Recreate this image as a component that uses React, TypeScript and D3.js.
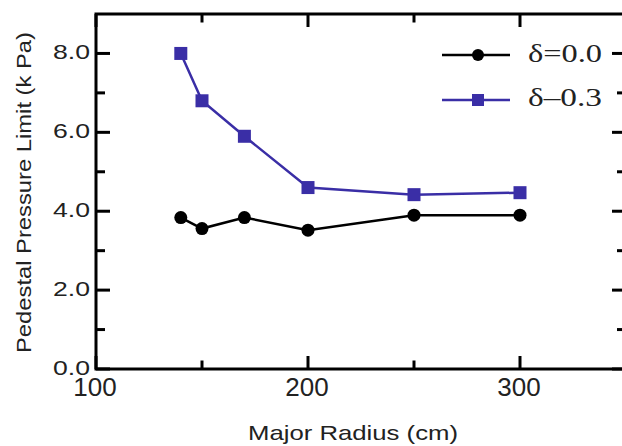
import React from "react";
import * as d3 from "d3";

const radius = [140, 150, 170, 200, 250, 300];
const delta00 = [3.84, 3.56, 3.84, 3.52, 3.9, 3.9];
const delta03 = [8.0, 6.8, 5.9, 4.6, 4.42, 4.47];
const xMajor = [100, 200, 300];
const xMinor = [150, 250];
const yMajor = [0, 2, 4, 6, 8];
const yMinor = [1, 3, 5, 7];
const yLabels = ["0.0", "2.0", "4.0", "6.0", "8.0"];
const seriesNames = ["δ=0.0", "δ–0.3"];

const W = 622, H = 446;
const L = 96, R = 626, T = 14, B = 369;
const BLUE = "#3a2ea6";

export default function App() {
  const x = d3.scaleLinear().domain([100, 350]).range([L, R]);
  const y = d3.scaleLinear().domain([0, 9]).range([B, T]);
  const line = d3
    .line<number>()
    .x((_, i) => x(radius[i]))
    .y((d) => y(d));
  const sans = "'Liberation Sans', Arial, sans-serif";
  const serif = "'Liberation Serif', 'Times New Roman', serif";
  const MJ = 13, MN = 8.5;
  return (
    <svg
      width={W}
      height={H}
      style={{ position: "absolute", left: 0, top: 0, background: "#fff" }}
    >
      <rect x={0} y={0} width={W} height={H} fill="#fff" />
      {/* ticks */}
      <g stroke="#000" strokeWidth={3}>
        {xMajor.map((v) => (
          <g key={"xm" + v}>
            <line x1={x(v)} x2={x(v)} y1={B} y2={B - MJ} />
            <line x1={x(v)} x2={x(v)} y1={T} y2={T + MJ} />
          </g>
        ))}
        {xMinor.map((v) => (
          <g key={"xn" + v}>
            <line x1={x(v)} x2={x(v)} y1={B} y2={B - MN} />
            <line x1={x(v)} x2={x(v)} y1={T} y2={T + MN} />
          </g>
        ))}
        {yMajor.map((v) => (
          <g key={"ym" + v}>
            <line x1={L} x2={L + 14} y1={y(v)} y2={y(v)} />
            <line x1={R} x2={R - 14} y1={y(v)} y2={y(v)} />
          </g>
        ))}
        {yMinor.map((v) => (
          <g key={"yn" + v}>
            <line x1={L} x2={L + 9} y1={y(v)} y2={y(v)} />
            <line x1={R} x2={R - 9} y1={y(v)} y2={y(v)} />
          </g>
        ))}
      </g>
      <rect
        x={L}
        y={T}
        width={R - L}
        height={B - T}
        fill="none"
        stroke="#000"
        strokeWidth={3}
      />
      {/* tick labels */}
      <g fontFamily={sans} fill="#222">
        {yMajor.map((v, i) => (
          <text
            key={"yl" + v}
            x={53}
            y={y(v) + 5.5}
            fontSize={21}
            textLength={37}
            lengthAdjust="spacingAndGlyphs"
          >
            {yLabels[i]}
          </text>
        ))}
        {xMajor.map((v) => (
          <text
            key={"xl" + v}
            x={x(v) - 1}
            y={396}
            fontSize={26}
            textAnchor="middle"
          >
            {v}
          </text>
        ))}
        <text
          x={248}
          y={440}
          fontSize={21}
          textLength={210}
          lengthAdjust="spacingAndGlyphs"
        >
          Major Radius (cm)
        </text>
        <text
          transform={`translate(31,353) rotate(-90)`}
          x={0}
          y={0}
          fontSize={20}
          textLength={321}
          lengthAdjust="spacingAndGlyphs"
        >
          Pedestal Pressure Limit (k Pa)
        </text>
      </g>
      {/* series */}
      <path
        d={line(delta00) || ""}
        fill="none"
        stroke="#000"
        strokeWidth={2.5}
      />
      {delta00.map((v, i) => (
        <circle key={"c" + i} cx={x(radius[i])} cy={y(v)} r={6.5} fill="#000" />
      ))}
      <path
        d={line(delta03) || ""}
        fill="none"
        stroke={BLUE}
        strokeWidth={2.5}
      />
      {delta03.map((v, i) => (
        <rect
          key={"s" + i}
          x={x(radius[i]) - 6.5}
          y={y(v) - 6.5}
          width={13}
          height={13}
          fill={BLUE}
        />
      ))}
      {/* legend */}
      <g>
        <line x1={442} x2={510} y1={55} y2={55} stroke="#000" strokeWidth={2.5} />
        <circle cx={478} cy={55} r={6} fill="#000" />
        <line x1={442} x2={510} y1={100} y2={100} stroke={BLUE} strokeWidth={2.5} />
        <rect x={472} y={94} width={12} height={12} fill={BLUE} />
        <text
          x={528}
          y={62}
          fontFamily={serif}
          fontSize={25}
          fill="#222"
          textLength={74}
          lengthAdjust="spacingAndGlyphs"
        >
          {seriesNames[0]}
        </text>
        <text
          x={528}
          y={106}
          fontFamily={serif}
          fontSize={25}
          fill="#222"
          textLength={74}
          lengthAdjust="spacingAndGlyphs"
        >
          {seriesNames[1]}
        </text>
      </g>
    </svg>
  );
}
